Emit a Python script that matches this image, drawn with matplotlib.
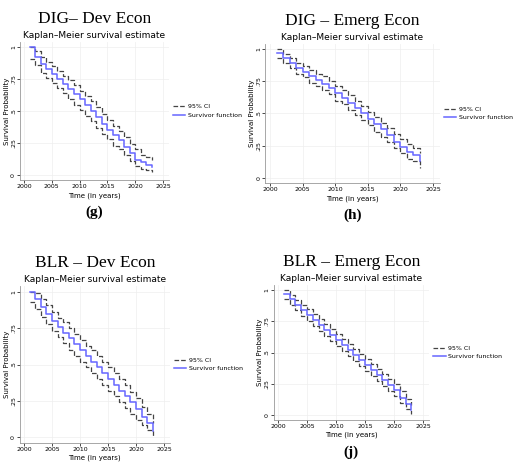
import numpy as np
import matplotlib.pyplot as plt

W, H = 520, 467

years = list(range(2001, 2024))

dig_dev = [1.0, 0.92, 0.87, 0.83, 0.79, 0.75, 0.71, 0.67, 0.63, 0.59, 0.55, 0.50,
           0.45, 0.40, 0.35, 0.31, 0.27, 0.22, 0.17, 0.12, 0.10, 0.08, 0.06]
dig_dev_lo = [0.91, 0.86, 0.80, 0.76, 0.72, 0.68, 0.64, 0.59, 0.55, 0.51, 0.46, 0.42,
              0.37, 0.32, 0.28, 0.23, 0.20, 0.16, 0.11, 0.07, 0.05, 0.04, 0.02]
dig_dev_hi = [1.0, 0.97, 0.92, 0.88, 0.85, 0.81, 0.77, 0.74, 0.70, 0.66, 0.62, 0.58,
              0.53, 0.48, 0.43, 0.38, 0.34, 0.30, 0.24, 0.20, 0.16, 0.14, 0.12]

dig_em = [0.97, 0.93, 0.89, 0.85, 0.82, 0.79, 0.76, 0.73, 0.70, 0.66, 0.62, 0.58,
          0.54, 0.50, 0.46, 0.42, 0.38, 0.33, 0.28, 0.24, 0.20, 0.18, 0.13]
dig_em_lo = [0.93, 0.89, 0.85, 0.81, 0.78, 0.74, 0.71, 0.68, 0.65, 0.60, 0.57, 0.53,
             0.49, 0.45, 0.41, 0.36, 0.32, 0.28, 0.23, 0.19, 0.15, 0.13, 0.08]
dig_em_hi = [1.0, 0.96, 0.93, 0.89, 0.87, 0.84, 0.81, 0.79, 0.75, 0.71, 0.68, 0.64,
             0.60, 0.56, 0.51, 0.47, 0.43, 0.39, 0.34, 0.30, 0.26, 0.23, 0.19]

blr_dev = [1.0, 0.95, 0.90, 0.85, 0.80, 0.76, 0.72, 0.68, 0.64, 0.60, 0.56, 0.52,
           0.48, 0.44, 0.40, 0.36, 0.32, 0.28, 0.24, 0.19, 0.14, 0.10, 0.04]
blr_dev_lo = [0.93, 0.88, 0.83, 0.78, 0.73, 0.69, 0.65, 0.60, 0.56, 0.52, 0.48, 0.44,
              0.40, 0.36, 0.32, 0.28, 0.24, 0.20, 0.16, 0.12, 0.08, 0.05, 0.01]
blr_dev_hi = [1.0, 0.99, 0.95, 0.91, 0.86, 0.82, 0.79, 0.75, 0.71, 0.67, 0.63, 0.60,
              0.56, 0.52, 0.48, 0.44, 0.40, 0.36, 0.31, 0.27, 0.21, 0.16, 0.10]

blr_em = [0.97, 0.93, 0.88, 0.84, 0.80, 0.76, 0.72, 0.68, 0.64, 0.60, 0.56, 0.52,
          0.48, 0.44, 0.40, 0.36, 0.32, 0.28, 0.24, 0.20, 0.14, 0.09, 0.04]
blr_em_lo = [0.93, 0.88, 0.84, 0.79, 0.75, 0.71, 0.67, 0.63, 0.59, 0.55, 0.51, 0.47,
             0.43, 0.39, 0.35, 0.31, 0.27, 0.23, 0.19, 0.15, 0.10, 0.05, 0.01]
blr_em_hi = [1.0, 0.96, 0.92, 0.88, 0.85, 0.81, 0.77, 0.73, 0.69, 0.65, 0.61, 0.57,
             0.53, 0.49, 0.45, 0.41, 0.37, 0.33, 0.29, 0.25, 0.19, 0.13, 0.08]

panels = [
    # title, letter, s, lo, hi, px(2000), px(2025), py(1), py(0)
    ("DIG\u2013 Dev Econ", "(g)", dig_dev, dig_dev_lo, dig_dev_hi, 24, 163, 47, 175),
    ("DIG \u2013 Emerg Econ", "(h)", dig_em, dig_em_lo, dig_em_hi, 270, 433, 49, 178),
    ("BLR \u2013 Dev Econ", "(i)", blr_dev, blr_dev_lo, blr_dev_hi, 24, 164, 292, 437),
    ("BLR \u2013 Emerg Econ", "(j)", blr_em, blr_em_lo, blr_em_hi, 278, 423, 290, 415),
]

XL = (1999.3, 2026.0)
YL = (-0.04, 1.04)

fig = plt.figure(figsize=(W / 100, H / 100), dpi=100)

for title, letter, s, lo, hi, x0, x1, y1, y0 in panels:
    sx = (x1 - x0) / 25.0
    sy = (y0 - y1) / 1.0
    left = x0 + (XL[0] - 2000) * sx
    right = x0 + (XL[1] - 2000) * sx
    top = y0 - YL[1] * sy
    bottom = y0 - YL[0] * sy
    ax = fig.add_axes([left / W, 1 - bottom / H, (right - left) / W, (bottom - top) / H])
    ax.step(years, hi, where="post", color="#444444", ls="--", lw=0.9, label="95% CI")
    ax.step(years, lo, where="post", color="#444444", ls="--", lw=0.9)
    ax.step(years, s, where="post", color="#6666ff", lw=1.1, label="Survivor function")
    ax.set_xlim(*XL)
    ax.set_ylim(*YL)
    ax.set_xticks([2000, 2005, 2010, 2015, 2020, 2025])
    ax.set_yticks([0, 0.25, 0.5, 0.75, 1])
    ax.set_yticklabels(["0", ".25", ".5", ".75", "1"], rotation=90, va="center")
    ax.tick_params(labelsize=4.5, length=2, width=0.5, pad=1)
    ax.grid(True, color="#eeeeee", lw=0.5)
    for sp in ["top", "right"]:
        ax.spines[sp].set_visible(False)
    for sp in ["left", "bottom"]:
        ax.spines[sp].set_color("#999999")
        ax.spines[sp].set_linewidth(0.6)
    ax.set_xlabel("Time (in years)", fontsize=5, labelpad=2)
    ax.set_ylabel("Survival Probability", fontsize=5, labelpad=1)
    ax.set_title("Kaplan\u2013Meier survival estimate", fontsize=6.5, pad=3)
    ax.legend(loc="center left", bbox_to_anchor=(1.0, 0.5), fontsize=4.5, frameon=False,
              handlelength=2.0, handletextpad=0.4, borderaxespad=0.3)
    cx = (left + right) / 2
    fig.text(cx / W, 1 - (top - 23) / H, title, family="Liberation Serif", fontsize=12.5,
             ha="center", va="center")
    fig.text(cx / W, 1 - (bottom + 32) / H, letter, family="Liberation Serif", fontsize=11,
             weight="bold", ha="center", va="center")

fig.savefig("out.png", dpi=100)
